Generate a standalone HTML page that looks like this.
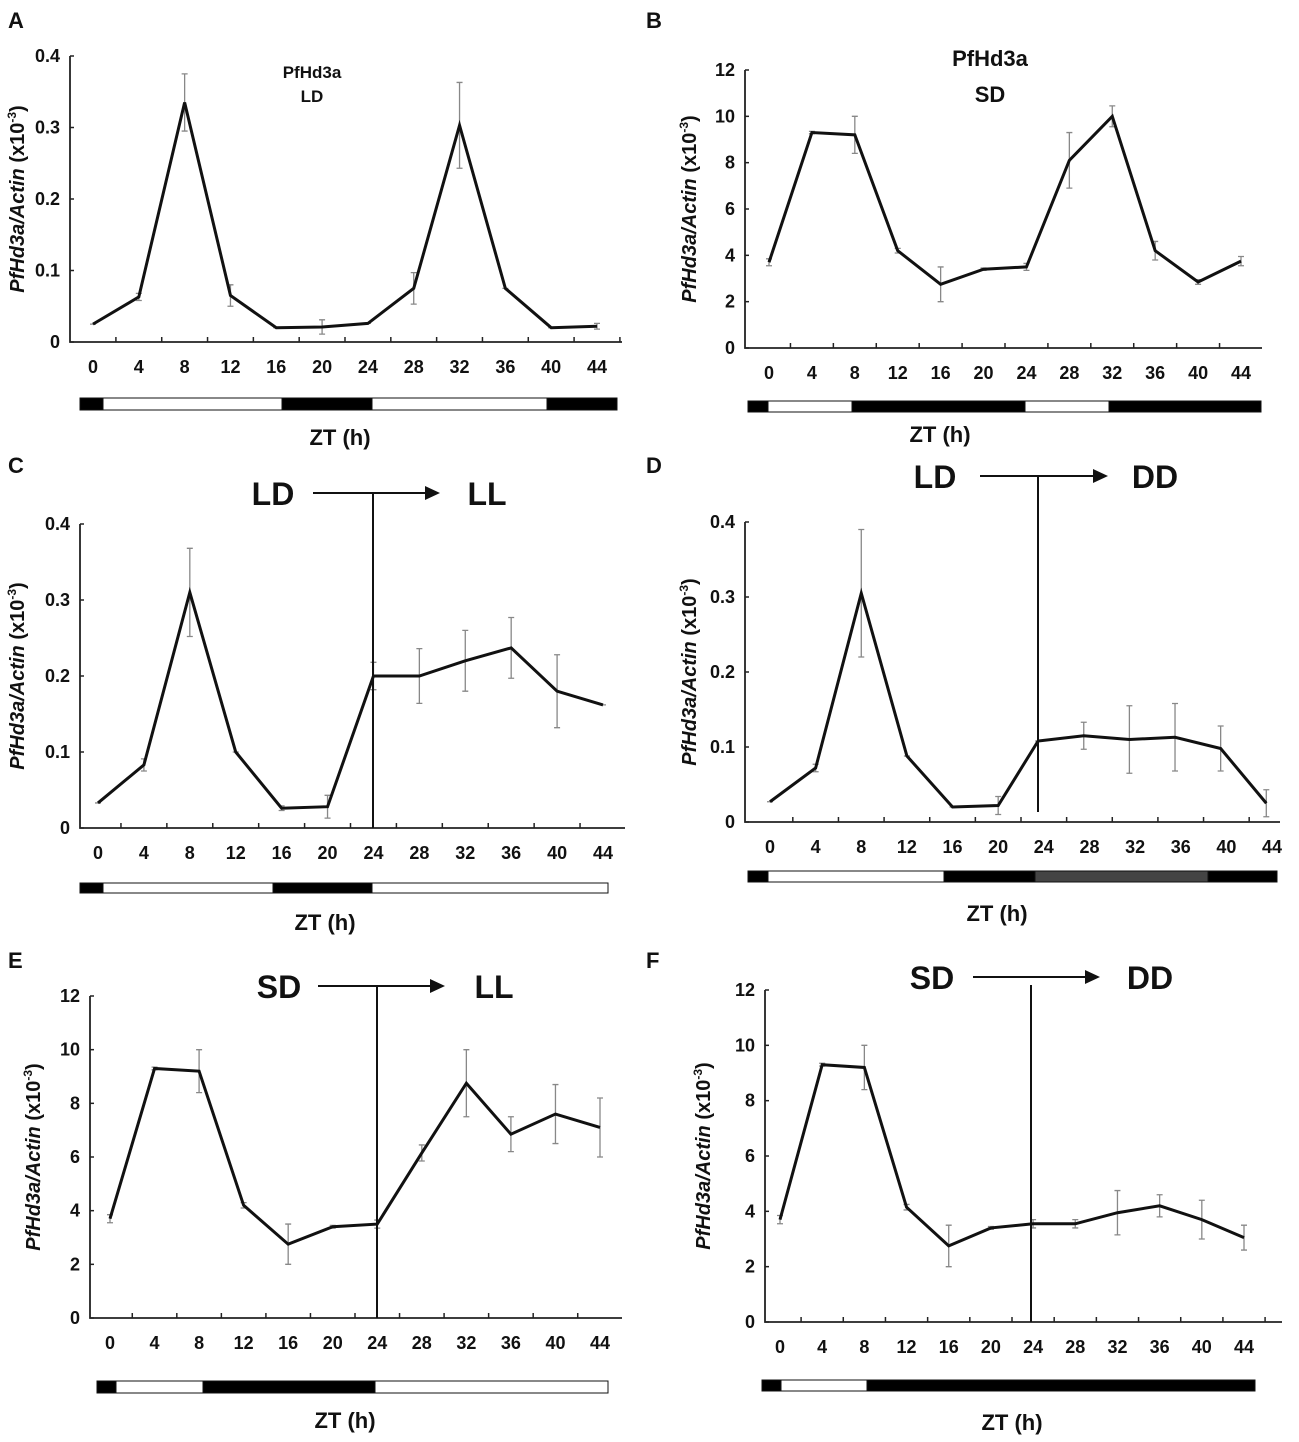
<!DOCTYPE html>
<html><head><meta charset="utf-8"><style>
body{margin:0;background:#fff}
svg{display:block}
text{font-family:"Liberation Sans",Arial,sans-serif;fill:#111}
</style></head><body>
<svg id="chart" width="1299" height="1442" viewBox="0 0 1299 1442" xmlns="http://www.w3.org/2000/svg"></svg>
<script>
const hours=[0,4,8,12,16,20,24,28,32,36,40,44];
const hoursD=[0,4,8,12,16,20,23.5,27.5,31.5,35.5,39.5,43.5];
const xTickLabels=["0","4","8","12","16","20","24","28","32","36","40","44"];
const ldTicks=[0,0.1,0.2,0.3,0.4];
const sdTicks=[0,2,4,6,8,10,12];
const aVals=[0.025,0.063,0.335,0.065,0.02,0.021,0.026,0.075,0.303,0.075,0.02,0.022];
const aErr=[0,0.005,0.04,0.015,0,0.01,0,0.022,0.06,0,0,0.004];
const bVals=[3.7,9.3,9.2,4.2,2.75,3.4,3.5,8.1,10,4.2,2.85,3.75];
const bErr=[0.15,0.05,0.8,0.1,0.75,0.05,0.15,1.2,0.45,0.4,0.1,0.2];
const cVals=[0.033,0.083,0.31,0.1,0.026,0.028,0.2,0.2,0.22,0.237,0.18,0.162];
const cErr=[0,0.008,0.058,0,0.003,0.015,0.018,0.036,0.04,0.04,0.048,0];
const dVals=[0.027,0.072,0.305,0.088,0.02,0.022,0.108,0.115,0.11,0.113,0.098,0.025];
const dErr=[0,0.005,0.085,0,0,0.012,0,0.018,0.045,0.045,0.03,0.018];
const eVals=[3.7,9.3,9.2,4.2,2.75,3.4,3.5,6.15,8.75,6.85,7.6,7.1];
const eErr=[0.15,0.05,0.8,0.1,0.75,0.05,0.15,0.3,1.25,0.65,1.1,1.1];
const fVals=[3.7,9.3,9.2,4.15,2.75,3.4,3.55,3.55,3.95,4.2,3.7,3.05];
const fErr=[0.15,0.05,0.8,0.1,0.75,0.05,0.15,0.15,0.8,0.4,0.7,0.45];

const svg=document.getElementById('chart');
const NS='http://www.w3.org/2000/svg';
function mk(tag,attrs,parent){const e=document.createElementNS(NS,tag);for(const k in attrs)e.setAttribute(k,attrs[k]);(parent||svg).appendChild(e);return e;}
function txt(x,y,s,size,parent,anchor,weight){const t=mk('text',{x:x,y:y,'font-size':size,'text-anchor':anchor||'middle','font-weight':weight||'bold'},parent);t.textContent=s;return t;}

function panel(p){
  const g=mk('g',{});
  
  
  const xs=h=>p.x0+(h)*(p.x44-p.x0)/44;
  const ys=v=>p.yb-(v/p.ymax)*(p.yb-p.yt);
  const L=txt(p.lx,p.ly,p.id,22,g,'start');
  
  
  const ax=mk('path',{d:`M${p.ax},${p.yt}V${p.yb}H${p.xr}`,stroke:'#222','stroke-width':1.8,fill:'none'},g);
  
  
  p.yticks.forEach(v=>{
    mk('line',{x1:p.ax,x2:p.ax+4,y1:ys(v),y2:ys(v),stroke:'#222','stroke-width':1.5},g);
    const t=txt(p.ax-10,ys(v)+6,String(v),18,g,'end');
    
    
  });
  const step=4*(p.x44-p.x0)/44;
  for(let i=0;i<12;i++){
    const tx=p.x0+i*step;
    const mx=tx+step/2;
    if(mx<p.xr) mk('line',{x1:mx,x2:mx,y1:p.yb,y2:p.yb-5,stroke:'#222','stroke-width':1.5},g);
    const t=txt(tx,p.yb+31,xTickLabels[i],18,g);
    
    
  }
  const yt=mk('text',{x:0,y:0,'font-size':20,'font-weight':'bold','text-anchor':'middle',transform:`translate(${p.ytx},${(p.yt+p.yb)/2}) rotate(-90)`},g);
  yt.innerHTML='<tspan font-style="italic">PfHd3a/Actin</tspan> (x10<tspan font-size="12" dy="-8">-3</tspan><tspan dy="8">)</tspan>';
  
  
  p.vals.forEach((v,i)=>{
    const x=xs(p.hrs[i]),e=p.err[i];
    const eb=mk('path',{d:`M${x},${ys(v+e)}V${ys(v-e)}M${x-3},${ys(v+e)}h6M${x-3},${ys(v-e)}h6`,stroke:'#888','stroke-width':1.3,fill:'none'},g);
    
    
  });
  const line=mk('polyline',{points:p.vals.map((v,i)=>xs(p.hrs[i])+','+ys(v)).join(' '),stroke:'#111','stroke-width':3,fill:'none','stroke-linejoin':'miter'},g);
  
  
  p.bar.forEach(s=>{
    const r=mk('rect',{x:s[0],y:p.by,width:s[1]-s[0],height:p.bh,fill:s[2],stroke:'#111','stroke-width':1},g);
    
    
  });
  const xt=txt(p.ztx,p.zty,'ZT (h)',22,g);
  
  
  if(p.title){
    const t1=txt(p.title[0],p.title[1],'PfHd3a',p.title[3],g);
    
    
    const t2=txt(p.title[0],p.title[2],p.title[4],p.title[3],g);
    
    
  }
  if(p.shift){
    const s=p.shift;
    const vl=mk('line',{x1:s.vx,x2:s.vx,y1:s.vt,y2:s.vb,stroke:'#111','stroke-width':2},g);
    
    
    const t1=txt(s.a1,s.ty+12,s.l1,32,g);
    
    
    const t2=txt(s.a2,s.ty+12,s.l2,32,g);
    
    
    const ar=mk('path',{d:`M${s.x1},${s.ty}H${s.x2-12}`,stroke:'#111','stroke-width':2},g);
    
    
    mk('path',{d:`M${s.x2},${s.ty}l-15,-7v14z`,fill:'#111'},g);
  }
}

panel({id:'A',lx:8,ly:28,ax:70,xr:622,yt:56,yb:342,ymax:0.4,x0:93,x44:597,yticks:ldTicks,vals:aVals,err:aErr,hrs:hours,ytx:24,
  by:398,bh:12,bar:[[80,103,'#000'],[103,282,'#fff'],[282,372,'#000'],[372,547,'#fff'],[547,617,'#000']],ztx:340,zty:445,title:[312,78,102,17,'LD']});
panel({id:'B',lx:646,ly:28,ax:745,xr:1262,yt:70,yb:348,ymax:12,x0:769,x44:1241,yticks:sdTicks,vals:bVals,err:bErr,hrs:hours,ytx:696,
  by:401,bh:11,bar:[[748,768,'#000'],[768,852,'#fff'],[852,1025,'#000'],[1025,1109,'#fff'],[1109,1261,'#000']],ztx:940,zty:442,title:[990,66,102,22,'SD']});
panel({id:'C',lx:8,ly:473,ax:80,xr:625,yt:524,yb:828,ymax:0.4,x0:98,x44:603,yticks:ldTicks,vals:cVals,err:cErr,hrs:hours,ytx:24,
  by:883,bh:10,bar:[[80,103,'#000'],[103,273,'#fff'],[273,372,'#000'],[372,608,'#fff']],ztx:325,zty:930,
  shift:{vx:373,vt:493,vb:828,ty:493,x1:313,x2:440,a1:273,a2:487,l1:'LD',l2:'LL'}});
panel({id:'D',lx:646,ly:473,ax:745,xr:1280,yt:522,yb:822,ymax:0.4,x0:770,x44:1272,yticks:ldTicks,vals:dVals,err:dErr,hrs:hoursD,ytx:696,
  by:871,bh:11,bar:[[748,768,'#000'],[768,944,'#fff'],[944,1035,'#000'],[1035,1208,'#444'],[1208,1277,'#000']],ztx:997,zty:921,
  shift:{vx:1038,vt:475,vb:812,ty:476,x1:980,x2:1108,a1:935,a2:1155,l1:'LD',l2:'DD'}});
panel({id:'E',lx:8,ly:968,ax:90,xr:622,yt:996,yb:1318,ymax:12,x0:110,x44:600,yticks:sdTicks,vals:eVals,err:eErr,hrs:hours,ytx:40,
  by:1381,bh:12,bar:[[97,116,'#000'],[116,203,'#fff'],[203,375,'#000'],[375,608,'#fff']],ztx:345,zty:1428,
  shift:{vx:377,vt:985,vb:1318,ty:986,x1:318,x2:445,a1:279,a2:494,l1:'SD',l2:'LL'}});
panel({id:'F',lx:646,ly:968,ax:765,xr:1282,yt:990,yb:1322,ymax:12,x0:780,x44:1244,yticks:sdTicks,vals:fVals,err:fErr,hrs:hours,ytx:710,
  by:1380,bh:11,bar:[[762,781,'#000'],[781,867,'#fff'],[867,1255,'#000']],ztx:1012,zty:1430,
  shift:{vx:1031,vt:985,vb:1322,ty:977,x1:973,x2:1100,a1:932,a2:1150,l1:'SD',l2:'DD'}});
</script>
</body></html>
